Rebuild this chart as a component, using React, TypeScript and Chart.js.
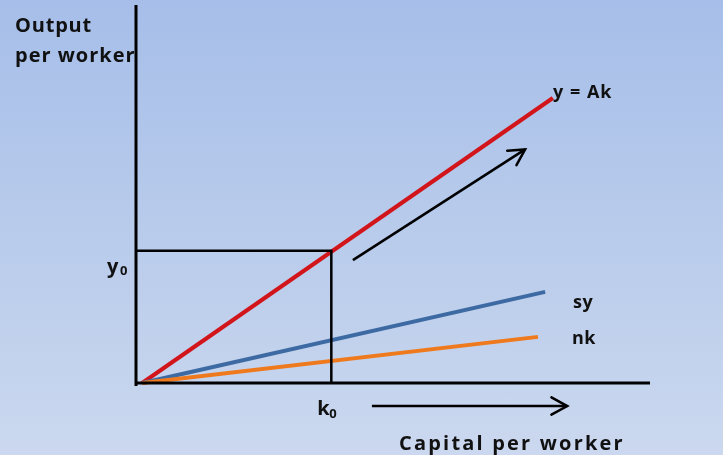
import React, { useEffect, useRef } from "react";
import { Chart, registerables } from "chart.js";

Chart.register(...registerables);

// Data in model units (capital per worker k, output per worker y)
const K0 = 38;
const Y0 = 35;
const yAkK = [1.2, 81.1];
const yAkY = [0, 75.4];
const syK = [1.2, 79.6];
const syY = [0, 24.1];
const nkK = [1.2, 78.2];
const nkY = [0, 12.2];
const growthArrowK = [42.2, 75.7];
const growthArrowY = [32.5, 61.8];
const capitalArrowK = [45.9, 83.9];
const capitalArrowY = [-6.1, -6.1];
const axisMax = 100;

const pts = (xs: number[], ys: number[]) => xs.map((x, i) => ({ x, y: ys[i] }));

const FONT = '"Open Sans", "DejaVu Sans", sans-serif';

const annotationPlugin = {
  id: "annotations",
  afterDatasetsDraw(chart: any) {
    const ctx = chart.ctx as CanvasRenderingContext2D;
    const xs = chart.scales.x;
    const ys = chart.scales.y;
    // arrowheads
    const arrows = chart.data.datasets.filter((d: any) => d.arrow);
    ctx.save();
    ctx.strokeStyle = "#000";
    ctx.lineWidth = 2.5;
    ctx.lineCap = "round";
    arrows.forEach((d: any) => {
      const n = d.data.length;
      const a = d.data[n - 2];
      const b = d.data[n - 1];
      const x1 = xs.getPixelForValue(a.x), y1 = ys.getPixelForValue(a.y);
      const x2 = xs.getPixelForValue(b.x), y2 = ys.getPixelForValue(b.y);
      const ang = Math.atan2(y2 - y1, x2 - x1);
      const L = 18, h = 0.5;
      ctx.beginPath();
      ctx.moveTo(x2 - L * Math.cos(ang - h), y2 - L * Math.sin(ang - h));
      ctx.lineTo(x2, y2);
      ctx.lineTo(x2 - L * Math.cos(ang + h), y2 - L * Math.sin(ang + h));
      ctx.stroke();
    });
    ctx.restore();

    // texts
    ctx.save();
    ctx.fillStyle = "#111";
    ctx.textBaseline = "alphabetic";
    ctx.textAlign = "left";
    const txt = (t: string, x: number, y: number, size: number, ls = "0px") => {
      ctx.font = `bold ${size}px ${FONT}`;
      (ctx as any).letterSpacing = ls;
      ctx.fillText(t, x, y);
    };
    txt("Output", 15, 32, 20, "0.8px");
    txt("per worker", 15, 62, 20, "1px");
    txt("y = Ak", 553, 98, 18, "1px");
    txt("sy", 573, 308, 18, "0.5px");
    txt("nk", 572, 344, 18, "0.5px");
    const y0p = ys.getPixelForValue(Y0);
    txt("y", 107, y0p + 22, 20);
    txt("0", 120, y0p + 24, 13);
    const k0p = xs.getPixelForValue(K0);
    txt("k", k0p - 14, 415, 20);
    txt("0", k0p - 2, 418, 13);
    txt("Capital per worker", 399, 450, 20, "2.2px");
    ctx.restore();
  },
};

export default function App() {
  const ref = useRef<HTMLCanvasElement>(null);
  useEffect(() => {
    if (!ref.current) return;
    const line = (data: any[], color: string, width: number, extra: any = {}) => ({
      data,
      borderColor: color,
      backgroundColor: color,
      borderWidth: width,
      showLine: true,
      pointRadius: 0,
      fill: false,
      clip: false,
      tension: 0,
      ...extra,
    });
    const chart = new Chart(ref.current, {
      type: "scatter",
      data: {
        datasets: [
          line([{ x: 0, y: -0.8 }, { x: 0, y: axisMax }], "#000", 3),
          line([{ x: 0, y: 0 }, { x: axisMax, y: 0 }], "#000", 3),
          line([{ x: 0, y: Y0 }, { x: K0, y: Y0 }, { x: K0, y: 0 }], "#000", 2.5),
          line(pts(nkK, nkY), "#ee7a1d", 4),
          line(pts(syK, syY), "#3d6aa3", 4),
          line(pts(yAkK, yAkY), "#d2151b", 4),
          line(pts(growthArrowK, growthArrowY), "#000", 2.5, { arrow: true }),
          line(pts(capitalArrowK, capitalArrowY), "#000", 2.5, { arrow: true }),
        ],
      },
      options: {
        animation: false,
        responsive: false,
        events: [],
        layout: { padding: { left: 136, right: 73, top: 5, bottom: 72 } },
        plugins: { legend: { display: false }, tooltip: { enabled: false } },
        scales: {
          x: { type: "linear", min: 0, max: axisMax, display: false },
          y: { type: "linear", min: 0, max: axisMax, display: false },
        },
      },
      plugins: [annotationPlugin],
    });
    return () => chart.destroy();
  }, []);
  return (
    <div
      style={{
        position: "fixed",
        left: 0,
        top: 0,
        width: 723,
        height: 455,
        background: "linear-gradient(to bottom, #a6bee9 0%, #b8cbeb 50%, #cbd8ef 100%)",
      }}
    >
      <canvas ref={ref} width={723} height={455} style={{ display: "block" }} />
    </div>
  );
}
